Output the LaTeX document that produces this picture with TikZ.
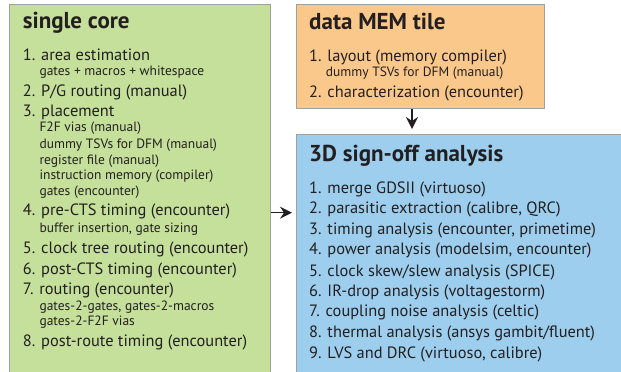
\documentclass[tikz,border=0pt]{standalone}
\usepackage{fontspec}
\setmainfont{PT Sans}
\usetikzlibrary{arrows.meta}
\definecolor{greenfill}{RGB}{197,224,155}
\definecolor{orangefill}{RGB}{251,200,140}
\definecolor{bluefill}{RGB}{157,206,238}
\definecolor{bordergray}{RGB}{160,160,160}
\definecolor{ink}{RGB}{35,31,32}
\tikzset{
  box/.style={draw=bordergray, line width=1.3pt, inner sep=0pt, anchor=north west},
  ttl/.style={anchor=base west, inner sep=0pt, text=ink, font=\fontsize{23}{25}\selectfont\bfseries},
  item/.style={anchor=base west, inner sep=0pt, text=ink, font=\fontsize{16.4}{18}\selectfont},
  sub/.style={anchor=base west, inner sep=0pt, text=ink, font=\fontsize{13.5}{15}\selectfont},
  arr/.style={draw=ink, line width=1.4pt, -{Stealth[length=12pt,width=12pt,inset=4pt]}}
}
\begin{document}
\begin{tikzpicture}[x=1pt,y=-1pt]
\useasboundingbox (0,0) rectangle (621,372);
\clip (0,0) rectangle (621,372);
% boxes
\node[box, fill=greenfill, minimum width=261pt, minimum height=380pt] (green) at (9,4) {};
\node[box, fill=orangefill, minimum width=248pt, minimum height=104pt] (orange) at (296,4) {};
\node[box, fill=bluefill, minimum width=340pt, minimum height=250pt] (blue) at (296,134) {};
% green texts
\node[ttl] (gt) at (22.7,28.5) {single core};
\node[item] (g1) at (22.7,60) {1. area estimation};
\node[sub] (g1a) at (39.3,75) {gates + macros + whitespace};
\node[item] (g2) at (22.7,96.7) {2. P/G routing (manual)};
\node[item] (g3) at (22.7,116.7) {3. placement};
\node[sub] (g3a) at (39.3,131.7) {F2F vias (manual)};
\node[sub] (g3b) at (39.3,148) {dummy TSVs for DFM (manual)};
\node[sub] (g3c) at (39.3,164) {register file (manual)};
\node[sub] (g3d) at (39.3,179.5) {instruction memory (compiler)};
\node[sub] (g3e) at (39.3,195) {gates (encounter)};
\node[item] (g4) at (22.7,215.7) {4. pre-CTS timing (encounter)};
\node[sub] (g4a) at (39.3,232.3) {buffer insertion, gate sizing};
\node[item] (g5) at (22.7,253.3) {5. clock tree routing (encounter)};
\node[item] (g6) at (22.7,274) {6. post-CTS timing (encounter)};
\node[item] (g7) at (22.7,294.3) {7. routing (encounter)};
\node[sub] (g7a) at (39.3,310) {gates-2-gates, gates-2-macros};
\node[sub] (g7b) at (39.3,325.7) {gates-2-F2F vias};
\node[item] (g8) at (22.7,346.7) {8. post-route timing (encounter)};
% orange texts
\node[ttl] (ot) at (309,29) {data MEM tile};
\node[item] (o1) at (309,61.7) {1. layout (memory compiler)};
\node[sub] (o1a) at (325.7,76) {dummy TSVs for DFM (manual)};
\node[item] (o2) at (309,97.7) {2. characterization (encounter)};
% blue texts
\node[ttl] (bt) at (309,161.7) {3D sign-off analysis};
\node[item] (b1) at (309,193.3) {1. merge GDSII (virtuoso)};
\node[item] (b2) at (309,213.3) {2. parasitic extraction (calibre, QRC)};
\node[item] (b3) at (309,234) {3. timing analysis (encounter, primetime)};
\node[item] (b4) at (309,254.3) {4. power analysis (modelsim, encounter)};
\node[item] (b5) at (309,276) {5. clock skew/slew analysis (SPICE)};
\node[item] (b6) at (309,296.7) {6. IR-drop analysis (voltagestorm)};
\node[item] (b7) at (309,316.7) {7. coupling noise analysis (celtic)};
\node[item] (b8) at (309,337.3) {8. thermal analysis (ansys gambit/fluent)};
\node[item] (b9) at (309,358.3) {9. LVS and DRC (virtuoso, calibre)};
% arrows
\coordinate (hpos) at (283,212.7);
\coordinate (vpos) at (412,120);
\draw[arr, shorten >=4pt] (hpos -| green.east) -- (hpos -| blue.west);
\draw[arr, shorten >=5pt] (vpos |- orange.south) -- (vpos |- blue.north);
\end{tikzpicture}
\end{document}
